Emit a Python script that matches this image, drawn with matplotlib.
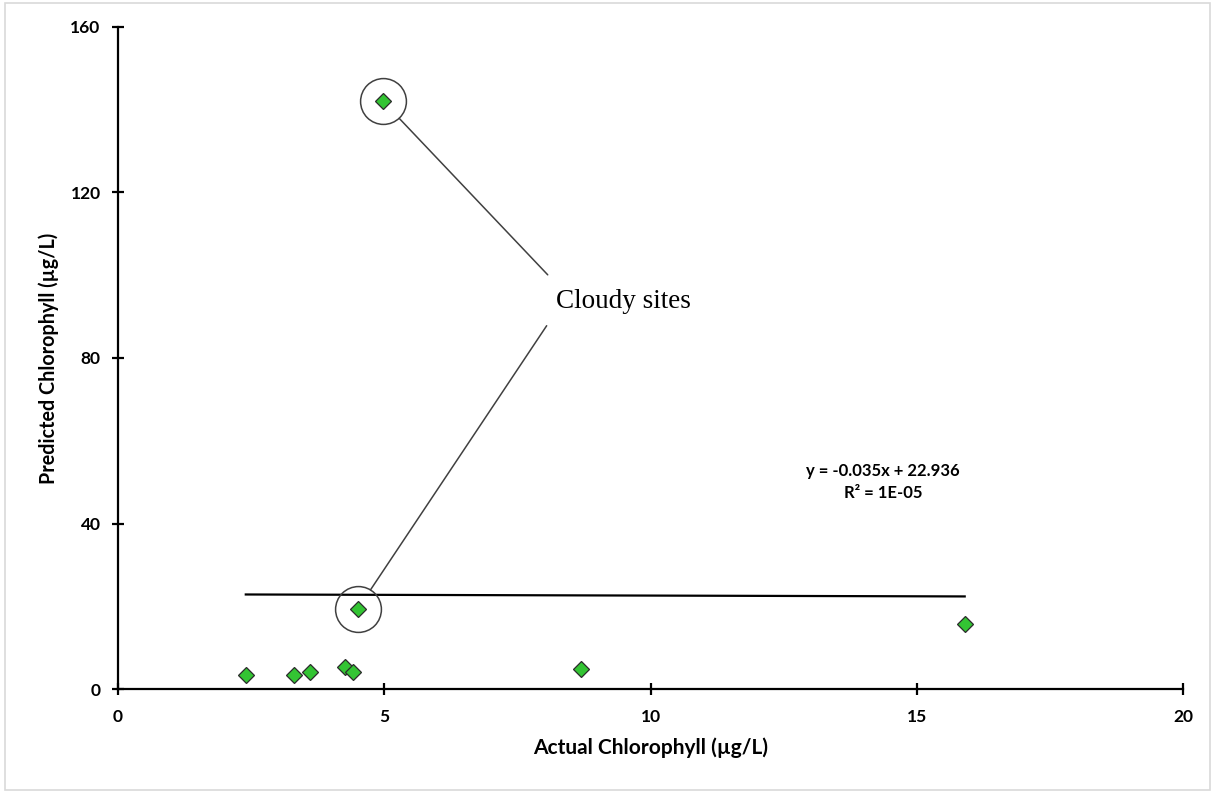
import matplotlib.pyplot as plt
from matplotlib.patches import Rectangle

# measured values
actual = [2.4, 3.3, 3.6, 4.27, 4.42, 4.98, 4.5, 8.7, 15.9]
predicted = [3.4, 3.4, 4.0, 5.4, 4.0, 142.0, 19.3, 4.8, 15.7]
cloudy_idx = [5, 6]

slope = -0.035
intercept = 22.936
eq_text = "y = -0.035x + 22.936\nR² = 1E-05"

x_ticks = [0, 5, 10, 15, 20]
y_ticks = [0, 40, 80, 120, 160]

fig = plt.figure(figsize=(12.15, 7.93), dpi=100)
ax = fig.add_axes([0.0971, 0.1311, 0.8766, 0.8349])

fig.patches.append(Rectangle((0.004, 0.004), 0.992, 0.992, transform=fig.transFigure,
                             fill=False, edgecolor="#d9d9d9", linewidth=1.2))

# trend line over data range
x0, x1 = min(actual), max(actual)
ax.plot([x0, x1], [slope * x0 + intercept, slope * x1 + intercept],
        color="black", linewidth=1.6, zorder=2)

ax.plot(actual, predicted, linestyle="none", marker="D", markersize=8.3,
        markerfacecolor="#33c433", markeredgecolor="#2b2b2b", markeredgewidth=0.9, zorder=3)

# circles around cloudy sites
cx = [actual[i] for i in cloudy_idx]
cy = [predicted[i] for i in cloudy_idx]
ax.plot(cx, cy, linestyle="none", marker="o", markersize=33,
        markerfacecolor="none", markeredgecolor="#404040", markeredgewidth=1.1, zorder=3)

ax.text(9.5, 93.6, "Cloudy sites", fontsize=19.5, family="Liberation Serif",
        ha="center", va="center")
line_starts = [(8.07, 100.1), (8.05, 87.8)]
for (sx, sy), px, py in zip(line_starts, cx, cy):
    ax.annotate("", xy=(px, py), xytext=(sx, sy),
                arrowprops=dict(arrowstyle="-", color="#404040", lw=1.1,
                                shrinkA=0, shrinkB=16.8))

ax.text(14.37, 50.0, eq_text, fontsize=12, family="Lato", fontweight="bold",
        ha="center", va="center", linespacing=1.45)

ax.set_xlim(0, 20)
ax.set_ylim(0, 160)
ax.set_xticks(x_ticks)
ax.set_yticks(y_ticks)
for s in ["top", "right"]:
    ax.spines[s].set_visible(False)
for s in ["left", "bottom"]:
    ax.spines[s].set_linewidth(1.6)
ax.tick_params(direction="inout", length=9, width=1.6, labelsize=12.5)
ax.tick_params(axis="y", pad=8)
ax.tick_params(axis="x", pad=10)
for lab in ax.get_xticklabels() + ax.get_yticklabels():
    lab.set_family("Lato")
    lab.set_fontweight("bold")

ax.set_xlabel("Actual Chlorophyll (µg/L)", fontsize=15, family="Lato", fontweight="bold", labelpad=9)
ax.set_ylabel("Predicted Chlorophyll (µg/L)", fontsize=14.2, family="Lato", fontweight="bold", labelpad=8)

fig.savefig("out.png", dpi=100)
